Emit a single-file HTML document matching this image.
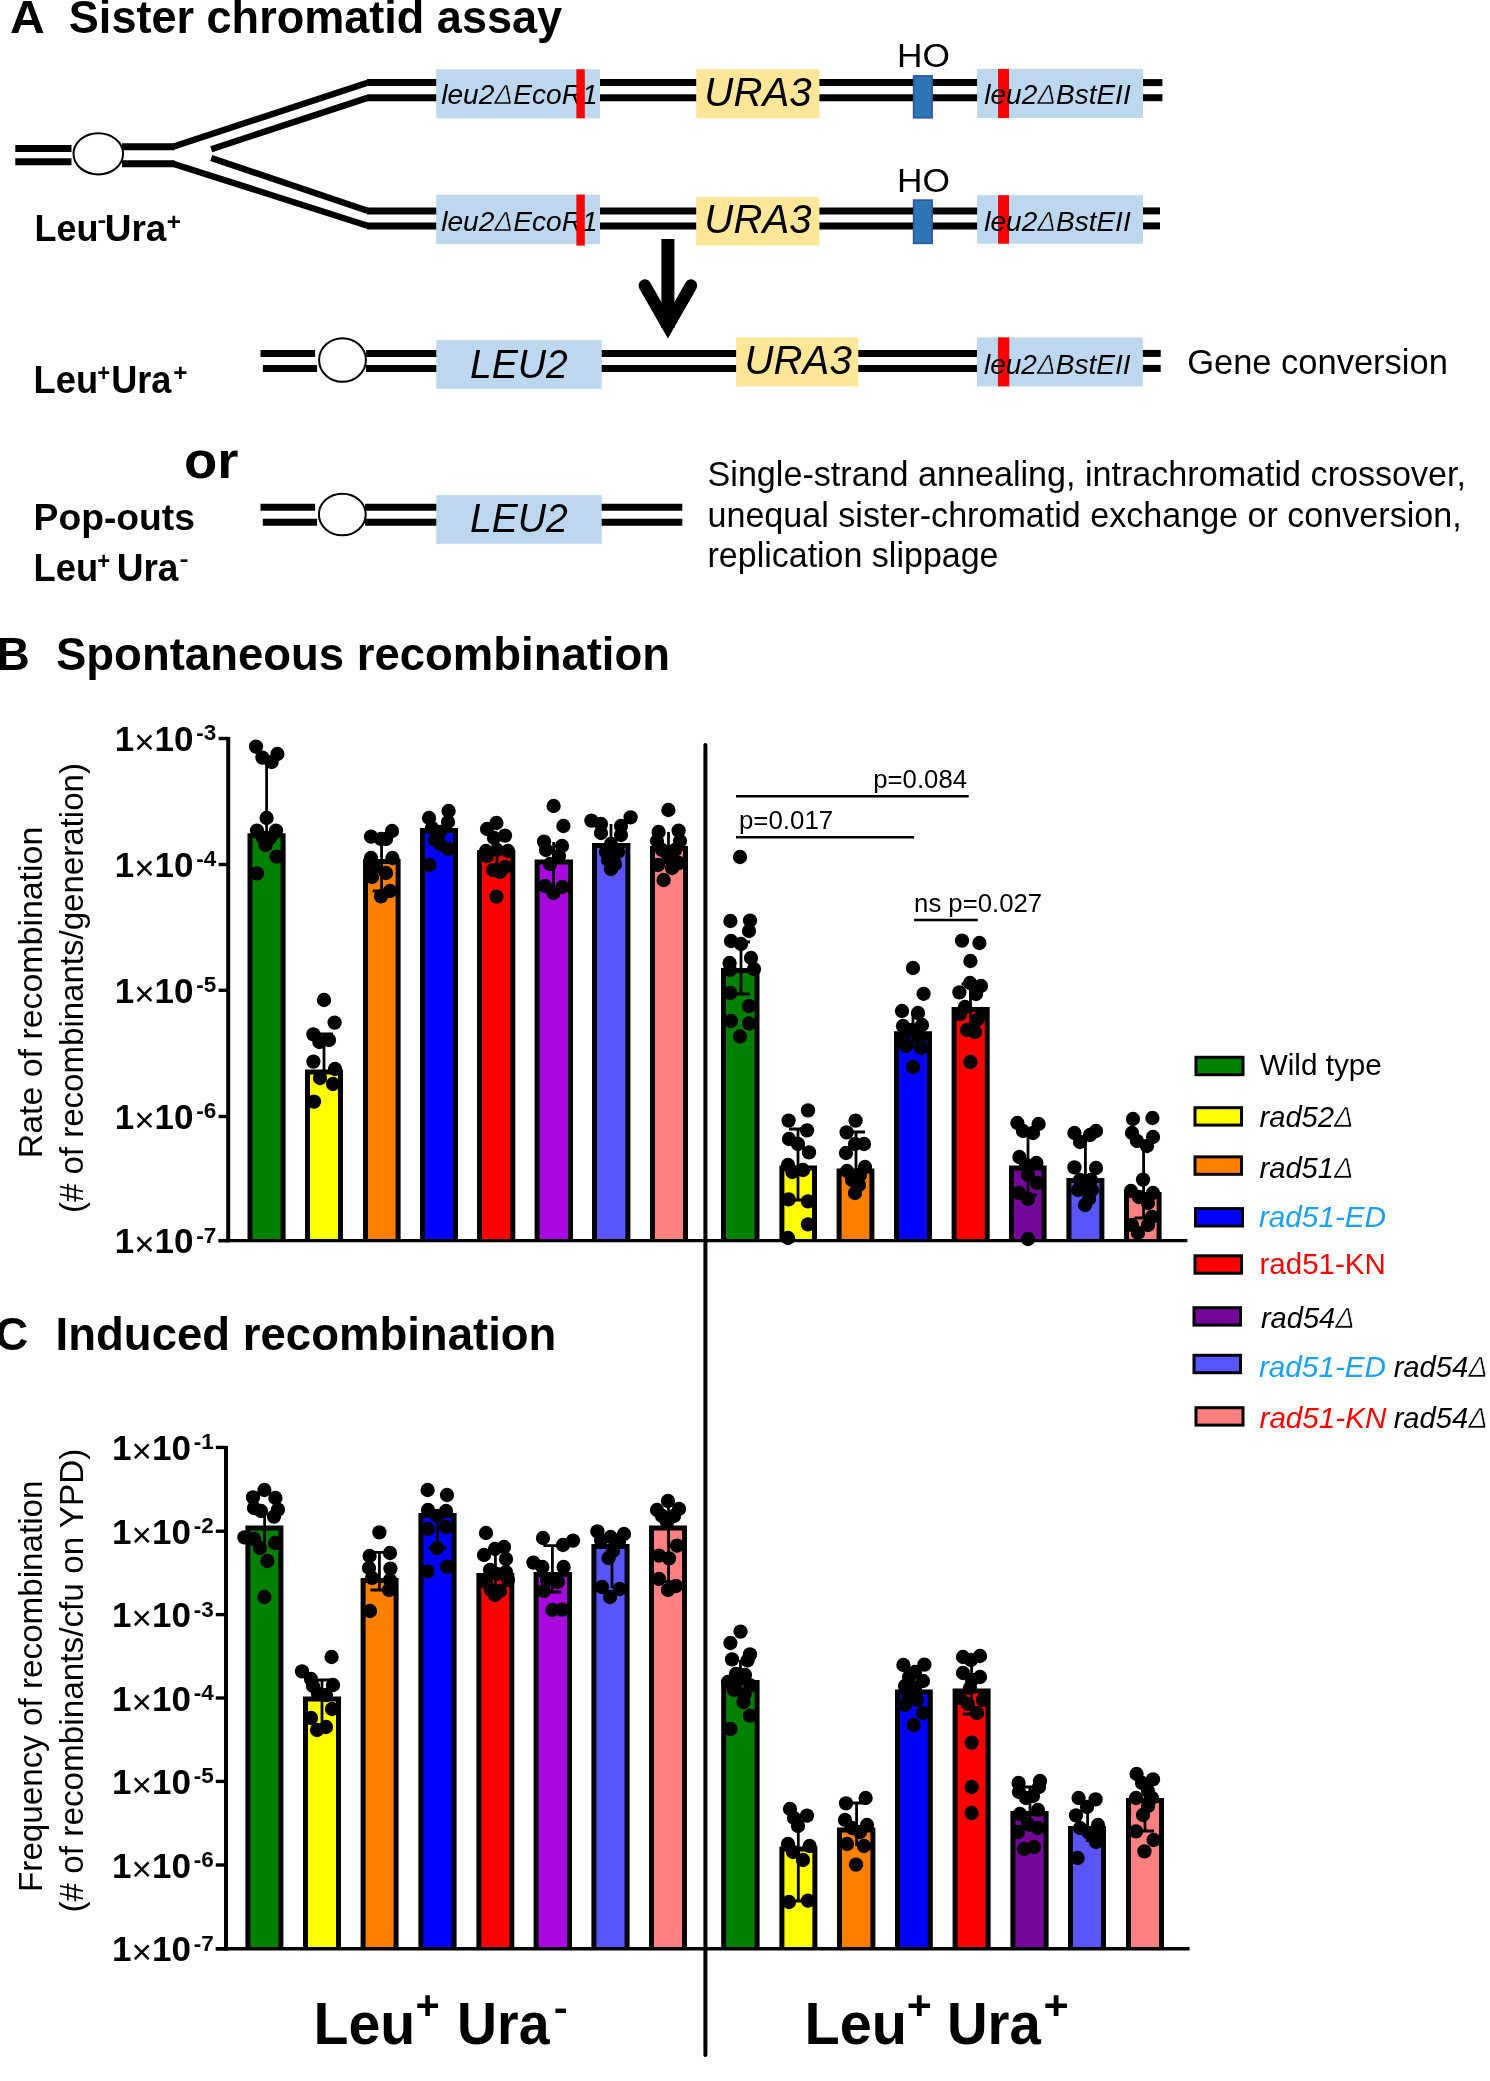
<!DOCTYPE html>
<html lang="en"><head><meta charset="utf-8"><title>Sister chromatid assay</title>
<style>
html,body{margin:0;padding:0;background:#fff}
body{width:1490px;height:2081px;overflow:hidden}
svg{display:block;will-change:transform}
svg text{font-family:"Liberation Sans",Arial,Helvetica,sans-serif}
</style></head><body>
<svg width="1490" height="2081" viewBox="0 0 1490 2081">
<rect width="1490" height="2081" fill="#fff"/>
<g id="panelA">
<text id="t1" x="9.96" y="32.5" font-size="46" font-weight="bold" textLength="34.74" lengthAdjust="spacingAndGlyphs">A</text>
<text id="t2" x="68.82" y="32.5" font-size="46" font-weight="bold" textLength="493.35" lengthAdjust="spacingAndGlyphs">Sister chromatid assay</text>
<line x1="15.3" y1="148.4" x2="71.5" y2="148.4" stroke="#000" stroke-width="7"/>
<line x1="15.3" y1="161.7" x2="71.5" y2="161.7" stroke="#000" stroke-width="7"/>
<line x1="122" y1="146.8" x2="174.5" y2="146.8" stroke="#000" stroke-width="7"/>
<line x1="122" y1="163.7" x2="174.5" y2="163.7" stroke="#000" stroke-width="7"/>
<path d="M171.5 147.3 L367.5 82.8 M211.2 149.2 L367.5 97.9 M211.2 158.0 L367.5 210.70000000000002 M171.5 163.2 L367.5 225.70000000000002" fill="none" stroke="#000" stroke-width="6.4" />
<line x1="366.9" y1="82.6" x2="1143" y2="82.6" stroke="#000" stroke-width="7"/>
<line x1="1143" y1="82.6" x2="1162.4" y2="82.6" stroke="#000" stroke-width="7"/>
<line x1="366.9" y1="97.7" x2="1143" y2="97.7" stroke="#000" stroke-width="7"/>
<line x1="1143" y1="97.7" x2="1162.4" y2="97.7" stroke="#000" stroke-width="7"/>
<line x1="366.9" y1="210.9" x2="1143" y2="210.9" stroke="#000" stroke-width="7"/>
<line x1="1143" y1="210.9" x2="1160" y2="210.9" stroke="#000" stroke-width="7"/>
<line x1="366.9" y1="225.9" x2="1143" y2="225.9" stroke="#000" stroke-width="7"/>
<line x1="1143" y1="225.9" x2="1160" y2="225.9" stroke="#000" stroke-width="7"/>
<ellipse cx="98.3" cy="153.8" rx="24.8" ry="20.6" fill="#fff" stroke="#000" stroke-width="2"/>
<rect x="436.2" y="69.3" width="163.8" height="49" fill="#BDD7EE"/>
<text id="eco103" x="441.23" y="103.8" font-size="27" font-style="italic" textLength="156.38" lengthAdjust="spacingAndGlyphs">leu2<tspan stroke="#BDD7EE" stroke-width="0.7">Δ</tspan>EcoR1</text>
<rect x="576.4" y="69.3" width="8.4" height="49" fill="#FF0000"/>
<rect x="696.2" y="69.3" width="123.2" height="49" fill="#FFE699"/>
<text id="ura105" x="704.36" y="105.5" font-size="41.4" font-style="italic" textLength="107.2" lengthAdjust="spacingAndGlyphs">URA3</text>
<text id="ho66" x="896.96" y="66.8" font-size="33" textLength="52.92" lengthAdjust="spacingAndGlyphs">HO</text>
<rect x="913.6" y="75.9" width="18.5" height="41.9" fill="#2E75B6" stroke="#2F5597" stroke-width="1.6"/>
<rect x="977.1" y="68.9" width="165.9" height="49.2" fill="#BDD7EE"/>
<rect x="998" y="68.9" width="11" height="49.2" fill="#FF0000"/>
<text id="bst103" x="984.33" y="103.8" font-size="27" font-style="italic" textLength="146.34" lengthAdjust="spacingAndGlyphs">leu2<tspan stroke="#BDD7EE" stroke-width="0.7">Δ</tspan>BstEII</text>
<rect x="436.2" y="194.6" width="163.8" height="49.4" fill="#BDD7EE"/>
<text id="eco231" x="441.23" y="231.2" font-size="27" font-style="italic" textLength="156.38" lengthAdjust="spacingAndGlyphs">leu2<tspan stroke="#BDD7EE" stroke-width="0.7">Δ</tspan>EcoR1</text>
<rect x="576.4" y="194.6" width="8.4" height="51" fill="#FF0000"/>
<rect x="696.2" y="197" width="123.2" height="48.6" fill="#FFE699"/>
<text id="ura233" x="704.36" y="233.2" font-size="41.4" font-style="italic" textLength="107.2" lengthAdjust="spacingAndGlyphs">URA3</text>
<text id="ho191" x="896.96" y="191.6" font-size="33" textLength="52.92" lengthAdjust="spacingAndGlyphs">HO</text>
<rect x="913.6" y="200.1" width="18.5" height="43.3" fill="#2E75B6" stroke="#2F5597" stroke-width="1.6"/>
<rect x="977.1" y="195.2" width="165.9" height="48.5" fill="#BDD7EE"/>
<rect x="998" y="195.2" width="11" height="48.5" fill="#FF0000"/>
<text id="bst230" x="984.33" y="230.9" font-size="27" font-style="italic" textLength="146.34" lengthAdjust="spacingAndGlyphs">leu2<tspan stroke="#BDD7EE" stroke-width="0.7">Δ</tspan>BstEII</text>
<text id="t11" x="34.47" y="241.2" font-size="36.5" font-weight="bold" textLength="64.04" lengthAdjust="spacingAndGlyphs">Leu</text>
<text id="t12" x="97.43" y="226.7" font-size="22" font-weight="bold" textLength="8.68" lengthAdjust="spacingAndGlyphs">-</text>
<text id="t13" x="104.81" y="241.2" font-size="36.5" font-weight="bold" textLength="61.64" lengthAdjust="spacingAndGlyphs">Ura</text>
<text id="t14" x="166.81" y="230" font-size="24" font-weight="bold" textLength="14.18" lengthAdjust="spacingAndGlyphs">+</text>
<path d="M667.9 239 L667.9 328" fill="none" stroke="#000" stroke-width="13" stroke-linecap="butt"/>
<path d="M644.8 285.6 L667.9 326 L691 285.6" fill="none" stroke="#000" stroke-width="12.5" stroke-linecap="round" stroke-linejoin="miter" stroke-miterlimit="10"/>
<line x1="260.5" y1="353.4" x2="315.1" y2="353.4" stroke="#000" stroke-width="7"/>
<line x1="366" y1="353.4" x2="1142.8" y2="353.4" stroke="#000" stroke-width="7"/>
<line x1="1142.8" y1="353.4" x2="1160.7" y2="353.4" stroke="#000" stroke-width="7"/>
<line x1="262.8" y1="368.4" x2="317.1" y2="368.4" stroke="#000" stroke-width="7"/>
<line x1="366" y1="368.4" x2="1142.8" y2="368.4" stroke="#000" stroke-width="7"/>
<line x1="1142.8" y1="368.4" x2="1160.7" y2="368.4" stroke="#000" stroke-width="7"/>
<ellipse cx="342.5" cy="360" rx="23.4" ry="21.8" fill="#fff" stroke="#000" stroke-width="2"/>
<rect x="436.3" y="340.1" width="165.4" height="48.7" fill="#BDD7EE"/>
<text id="t15" x="469.98" y="377.7" font-size="41" font-style="italic" textLength="97.83" lengthAdjust="spacingAndGlyphs">LEU2</text>
<rect x="736.1" y="337.4" width="122.2" height="49" fill="#FFE699"/>
<text id="t16" x="744.58" y="373.8" font-size="41.4" font-style="italic" textLength="107.2" lengthAdjust="spacingAndGlyphs">URA3</text>
<rect x="977" y="337.4" width="165.8" height="49" fill="#BDD7EE"/>
<rect x="997.9" y="337.4" width="11.4" height="49" fill="#FF0000"/>
<text id="t17" x="983.93" y="374.4" font-size="27" font-style="italic" textLength="146.56" lengthAdjust="spacingAndGlyphs">leu2<tspan stroke="#BDD7EE" stroke-width="0.7">Δ</tspan>BstEII</text>
<text id="t18" x="1187.18" y="373.6" font-size="35.2" textLength="260.67" lengthAdjust="spacingAndGlyphs">Gene conversion</text>
<text id="t19" x="33.61" y="392.8" font-size="38" font-weight="bold" textLength="64.41" lengthAdjust="spacingAndGlyphs">Leu</text>
<text id="t20" x="97.17" y="380.9" font-size="24" font-weight="bold" textLength="12.9" lengthAdjust="spacingAndGlyphs">+</text>
<text id="t21" x="111.18" y="392.8" font-size="38" font-weight="bold" textLength="60.23" lengthAdjust="spacingAndGlyphs">Ura</text>
<text id="t22" x="173.37" y="380.9" font-size="24" font-weight="bold" textLength="14.21" lengthAdjust="spacingAndGlyphs">+</text>
<text id="t23" x="184.13" y="478.2" font-size="52" font-weight="bold" textLength="54.43" lengthAdjust="spacingAndGlyphs">or</text>
<line x1="260.5" y1="507.2" x2="315.1" y2="507.2" stroke="#000" stroke-width="7"/>
<line x1="365" y1="507.2" x2="682.3" y2="507.2" stroke="#000" stroke-width="7"/>
<line x1="262.8" y1="522.3" x2="317.1" y2="522.3" stroke="#000" stroke-width="7"/>
<line x1="365" y1="522.3" x2="682.3" y2="522.3" stroke="#000" stroke-width="7"/>
<ellipse cx="342.3" cy="514.5" rx="23.4" ry="20.8" fill="#fff" stroke="#000" stroke-width="2"/>
<rect x="436.3" y="495.2" width="165.4" height="48.6" fill="#BDD7EE"/>
<text id="t24" x="469.98" y="532" font-size="41" font-style="italic" textLength="97.83" lengthAdjust="spacingAndGlyphs">LEU2</text>
<text id="t25" x="33.57" y="530.1" font-size="37.5" font-weight="bold" textLength="161.44" lengthAdjust="spacingAndGlyphs">Pop-outs</text>
<text id="t26" x="33.61" y="580.8" font-size="38" font-weight="bold" textLength="64.41" lengthAdjust="spacingAndGlyphs">Leu</text>
<text id="t27" x="97.17" y="569" font-size="24" font-weight="bold" textLength="12.9" lengthAdjust="spacingAndGlyphs">+</text>
<text id="t28" x="116.71" y="580.8" font-size="38" font-weight="bold" textLength="61.74" lengthAdjust="spacingAndGlyphs">Ura</text>
<text id="t29" x="179.42" y="566.3" font-size="22" font-weight="bold" textLength="8.98" lengthAdjust="spacingAndGlyphs">-</text>
<text id="t30" x="707.56" y="486.3" font-size="35.2" textLength="758.49" lengthAdjust="spacingAndGlyphs">Single-strand annealing, intrachromatid crossover,</text>
<text id="t31" x="707.49" y="526.6" font-size="35.2" textLength="754.18" lengthAdjust="spacingAndGlyphs">unequal sister-chromatid exchange or conversion,</text>
<text id="t32" x="707.5" y="567.3" font-size="35.2" textLength="291" lengthAdjust="spacingAndGlyphs">replication slippage</text>
</g>
<g id="chartB">
<text id="t33" x="-3.5" y="669.6" font-size="46" font-weight="bold">B</text>
<text id="t34" x="56.01" y="669.6" font-size="46" font-weight="bold" textLength="614.06" lengthAdjust="spacingAndGlyphs">Spontaneous recombination</text>
<rect x="250" y="835.7" width="33.1" height="404.9" fill="#008000"/>
<path d="M250 1240.6 V835.7 H283.1 V1240.6" fill="none" stroke="#000" stroke-width="5" stroke-linejoin="miter"/>
<rect x="307.5" y="1072.1" width="33" height="168.5" fill="#FFFF00"/>
<path d="M307.5 1240.6 V1072.1 H340.5 V1240.6" fill="none" stroke="#000" stroke-width="5" stroke-linejoin="miter"/>
<rect x="365.5" y="861.5" width="32.6" height="379.1" fill="#FF8000"/>
<path d="M365.5 1240.6 V861.5 H398.1 V1240.6" fill="none" stroke="#000" stroke-width="5" stroke-linejoin="miter"/>
<rect x="422.5" y="830.5" width="33" height="410.1" fill="#0000FF"/>
<path d="M422.5 1240.6 V830.5 H455.5 V1240.6" fill="none" stroke="#000" stroke-width="5" stroke-linejoin="miter"/>
<rect x="479.5" y="852.5" width="33.3" height="388.1" fill="#FF0000"/>
<path d="M479.5 1240.6 V852.5 H512.8 V1240.6" fill="none" stroke="#000" stroke-width="5" stroke-linejoin="miter"/>
<rect x="537.1" y="862.1" width="33.4" height="378.5" fill="#AA08E0"/>
<path d="M537.1 1240.6 V862.1 H570.5 V1240.6" fill="none" stroke="#000" stroke-width="5" stroke-linejoin="miter"/>
<rect x="594.5" y="845.5" width="33.4" height="395.1" fill="#5A55FA"/>
<path d="M594.5 1240.6 V845.5 H627.9 V1240.6" fill="none" stroke="#000" stroke-width="5" stroke-linejoin="miter"/>
<rect x="652.5" y="848.5" width="33" height="392.1" fill="#FF8080"/>
<path d="M652.5 1240.6 V848.5 H685.5 V1240.6" fill="none" stroke="#000" stroke-width="5" stroke-linejoin="miter"/>
<rect x="723.5" y="970.5" width="33.5" height="270.1" fill="#008000"/>
<path d="M723.5 1240.6 V970.5 H757 V1240.6" fill="none" stroke="#000" stroke-width="5" stroke-linejoin="miter"/>
<rect x="781.9" y="1168.1" width="32.6" height="72.5" fill="#FFFF00"/>
<path d="M781.9 1240.6 V1168.1 H814.5 V1240.6" fill="none" stroke="#000" stroke-width="5" stroke-linejoin="miter"/>
<rect x="839.1" y="1170.9" width="32.8" height="69.7" fill="#FF8000"/>
<path d="M839.1 1240.6 V1170.9 H871.9 V1240.6" fill="none" stroke="#000" stroke-width="5" stroke-linejoin="miter"/>
<rect x="896.5" y="1033.8" width="33" height="206.8" fill="#0000FF"/>
<path d="M896.5 1240.6 V1033.8 H929.5 V1240.6" fill="none" stroke="#000" stroke-width="5" stroke-linejoin="miter"/>
<rect x="954.1" y="1009.5" width="33.1" height="231.1" fill="#FF0000"/>
<path d="M954.1 1240.6 V1009.5 H987.2 V1240.6" fill="none" stroke="#000" stroke-width="5" stroke-linejoin="miter"/>
<rect x="1011.5" y="1168.1" width="32.6" height="72.5" fill="#75079A"/>
<path d="M1011.5 1240.6 V1168.1 H1044.1 V1240.6" fill="none" stroke="#000" stroke-width="5" stroke-linejoin="miter"/>
<rect x="1068.9" y="1180.5" width="33" height="60.1" fill="#5A55FA"/>
<path d="M1068.9 1240.6 V1180.5 H1101.9 V1240.6" fill="none" stroke="#000" stroke-width="5" stroke-linejoin="miter"/>
<rect x="1126.5" y="1194.5" width="32.6" height="46.1" fill="#FF8080"/>
<path d="M1126.5 1240.6 V1194.5 H1159.1 V1240.6" fill="none" stroke="#000" stroke-width="5" stroke-linejoin="miter"/>
<path d="M266.6 760 V833" fill="none" stroke="#000" stroke-width="2.8" />
<path d="M324 1034 V1070 M315 1034 H333" fill="none" stroke="#000" stroke-width="2.8" />
<path d="M381.6 839 V891 M372.6 891 H390.6" fill="none" stroke="#000" stroke-width="2.8" />
<path d="M439 826 V845" fill="none" stroke="#000" stroke-width="2.8" />
<path d="M497 835 V866" fill="none" stroke="#000" stroke-width="2.8" />
<path d="M553.6 842 V886" fill="none" stroke="#000" stroke-width="2.8" />
<path d="M611 824 V862" fill="none" stroke="#000" stroke-width="2.8" />
<path d="M668.5 832 V866" fill="none" stroke="#000" stroke-width="2.8" />
<path d="M741 942 V994 M732 942 H750 M732 994 H750" fill="none" stroke="#000" stroke-width="2.8" />
<path d="M798 1129 V1200 M789 1129 H807 M789 1200 H807" fill="none" stroke="#000" stroke-width="2.8" />
<path d="M856 1132 V1190 M847 1132 H865" fill="none" stroke="#000" stroke-width="2.8" />
<path d="M913 1012 V1048" fill="none" stroke="#000" stroke-width="2.8" />
<path d="M970.5 984 V1030 M961.5 984 H979.5" fill="none" stroke="#000" stroke-width="2.8" />
<path d="M1028 1134 V1195 M1019 1195 H1037" fill="none" stroke="#000" stroke-width="2.8" />
<path d="M1085.4 1140 V1200" fill="none" stroke="#000" stroke-width="2.8" />
<path d="M1143.6 1147 V1218 M1134.6 1218 H1152.6" fill="none" stroke="#000" stroke-width="2.8" />
<g fill="#000"><circle cx="256" cy="746.6" r="7.15"/><circle cx="262.4" cy="757.6" r="7.15"/><circle cx="277.4" cy="754" r="7.15"/><circle cx="271.6" cy="762" r="7.15"/><circle cx="266.6" cy="818" r="7.15"/><circle cx="257" cy="830.6" r="7.15"/><circle cx="276" cy="830.6" r="7.15"/><circle cx="263" cy="838" r="7.15"/><circle cx="270" cy="838" r="7.15"/><circle cx="265.6" cy="845" r="7.15"/><circle cx="276.6" cy="856.6" r="7.15"/><circle cx="257" cy="873.4" r="7.15"/><circle cx="324" cy="1000" r="7.15"/><circle cx="334.6" cy="1022.6" r="7.15"/><circle cx="313.4" cy="1034.4" r="7.15"/><circle cx="319.4" cy="1042" r="7.15"/><circle cx="329" cy="1040" r="7.15"/><circle cx="313.4" cy="1061.6" r="7.15"/><circle cx="335" cy="1069" r="7.15"/><circle cx="320" cy="1078" r="7.15"/><circle cx="333" cy="1084" r="7.15"/><circle cx="314" cy="1101.6" r="7.15"/><circle cx="371" cy="836.6" r="7.15"/><circle cx="392" cy="831" r="7.15"/><circle cx="381" cy="839" r="7.15"/><circle cx="386" cy="839" r="7.15"/><circle cx="371" cy="858" r="7.15"/><circle cx="392.4" cy="858" r="7.15"/><circle cx="374" cy="868" r="7.15"/><circle cx="386" cy="873" r="7.15"/><circle cx="372" cy="877" r="7.15"/><circle cx="390" cy="891" r="7.15"/><circle cx="381" cy="896.4" r="7.15"/><circle cx="429" cy="818" r="7.15"/><circle cx="448.6" cy="811" r="7.15"/><circle cx="448" cy="822" r="7.15"/><circle cx="432" cy="828" r="7.15"/><circle cx="440" cy="832" r="7.15"/><circle cx="435" cy="840" r="7.15"/><circle cx="440" cy="844" r="7.15"/><circle cx="448" cy="849" r="7.15"/><circle cx="429.4" cy="865" r="7.15"/><circle cx="496.4" cy="823" r="7.15"/><circle cx="487" cy="829" r="7.15"/><circle cx="505" cy="835.6" r="7.15"/><circle cx="494" cy="838" r="7.15"/><circle cx="486" cy="851" r="7.15"/><circle cx="508" cy="851" r="7.15"/><circle cx="497" cy="850" r="7.15"/><circle cx="487" cy="856" r="7.15"/><circle cx="505" cy="867" r="7.15"/><circle cx="493" cy="870" r="7.15"/><circle cx="500" cy="872" r="7.15"/><circle cx="496.4" cy="896.6" r="7.15"/><circle cx="553.6" cy="806" r="7.15"/><circle cx="563.4" cy="826" r="7.15"/><circle cx="544" cy="841.6" r="7.15"/><circle cx="562" cy="846" r="7.15"/><circle cx="546" cy="850" r="7.15"/><circle cx="559" cy="856" r="7.15"/><circle cx="550" cy="864" r="7.15"/><circle cx="545" cy="886" r="7.15"/><circle cx="562.4" cy="887" r="7.15"/><circle cx="553.4" cy="893" r="7.15"/><circle cx="591.4" cy="820.6" r="7.15"/><circle cx="601" cy="824" r="7.15"/><circle cx="630.6" cy="817.4" r="7.15"/><circle cx="621" cy="826" r="7.15"/><circle cx="601" cy="833" r="7.15"/><circle cx="621" cy="835" r="7.15"/><circle cx="611" cy="844" r="7.15"/><circle cx="606" cy="852" r="7.15"/><circle cx="618" cy="852" r="7.15"/><circle cx="608" cy="860" r="7.15"/><circle cx="615" cy="864" r="7.15"/><circle cx="611" cy="869" r="7.15"/><circle cx="668.4" cy="810" r="7.15"/><circle cx="658.6" cy="832" r="7.15"/><circle cx="678.6" cy="830.6" r="7.15"/><circle cx="657" cy="841" r="7.15"/><circle cx="680" cy="841" r="7.15"/><circle cx="662" cy="850" r="7.15"/><circle cx="675" cy="850" r="7.15"/><circle cx="668.4" cy="858" r="7.15"/><circle cx="658" cy="865" r="7.15"/><circle cx="679" cy="863" r="7.15"/><circle cx="672" cy="868" r="7.15"/><circle cx="663.6" cy="880" r="7.15"/><circle cx="740" cy="857" r="7.15"/><circle cx="730.4" cy="921" r="7.15"/><circle cx="750" cy="920.6" r="7.15"/><circle cx="749" cy="931" r="7.15"/><circle cx="731" cy="941" r="7.15"/><circle cx="741" cy="944" r="7.15"/><circle cx="729.6" cy="963" r="7.15"/><circle cx="751" cy="958" r="7.15"/><circle cx="730" cy="970" r="7.15"/><circle cx="754" cy="969" r="7.15"/><circle cx="730.4" cy="993" r="7.15"/><circle cx="749" cy="1006" r="7.15"/><circle cx="731" cy="1021" r="7.15"/><circle cx="749" cy="1023.5" r="7.15"/><circle cx="740" cy="1036.5" r="7.15"/><circle cx="808" cy="1110.4" r="7.15"/><circle cx="788.6" cy="1120.6" r="7.15"/><circle cx="807" cy="1130.4" r="7.15"/><circle cx="789" cy="1139" r="7.15"/><circle cx="798" cy="1144" r="7.15"/><circle cx="809" cy="1152.4" r="7.15"/><circle cx="788" cy="1165" r="7.15"/><circle cx="792.4" cy="1172" r="7.15"/><circle cx="803" cy="1170" r="7.15"/><circle cx="788.6" cy="1199.4" r="7.15"/><circle cx="808" cy="1201.4" r="7.15"/><circle cx="808" cy="1224.4" r="7.15"/><circle cx="788" cy="1238" r="7.15"/><circle cx="855.6" cy="1120.6" r="7.15"/><circle cx="846.6" cy="1132.4" r="7.15"/><circle cx="864" cy="1144" r="7.15"/><circle cx="855" cy="1144" r="7.15"/><circle cx="846" cy="1153" r="7.15"/><circle cx="865" cy="1167" r="7.15"/><circle cx="847" cy="1171" r="7.15"/><circle cx="860" cy="1175" r="7.15"/><circle cx="852" cy="1180" r="7.15"/><circle cx="859" cy="1185" r="7.15"/><circle cx="855" cy="1193" r="7.15"/><circle cx="913" cy="968" r="7.15"/><circle cx="923.6" cy="993.8" r="7.15"/><circle cx="902" cy="1011" r="7.15"/><circle cx="918" cy="1013" r="7.15"/><circle cx="903" cy="1026" r="7.15"/><circle cx="922" cy="1025" r="7.15"/><circle cx="912" cy="1030" r="7.15"/><circle cx="904" cy="1038" r="7.15"/><circle cx="920" cy="1038" r="7.15"/><circle cx="906" cy="1046" r="7.15"/><circle cx="921" cy="1048" r="7.15"/><circle cx="913" cy="1067" r="7.15"/><circle cx="962" cy="940.6" r="7.15"/><circle cx="979.4" cy="943" r="7.15"/><circle cx="970.4" cy="961" r="7.15"/><circle cx="970" cy="983" r="7.15"/><circle cx="981" cy="986" r="7.15"/><circle cx="959.4" cy="992.4" r="7.15"/><circle cx="976" cy="994" r="7.15"/><circle cx="965" cy="1007" r="7.15"/><circle cx="960" cy="1014" r="7.15"/><circle cx="982" cy="1014" r="7.15"/><circle cx="977" cy="1020" r="7.15"/><circle cx="967" cy="1030" r="7.15"/><circle cx="975" cy="1032" r="7.15"/><circle cx="970.4" cy="1062" r="7.15"/><circle cx="1017.4" cy="1123" r="7.15"/><circle cx="1038.6" cy="1124" r="7.15"/><circle cx="1023" cy="1131" r="7.15"/><circle cx="1033" cy="1133" r="7.15"/><circle cx="1019.4" cy="1157" r="7.15"/><circle cx="1036.4" cy="1163" r="7.15"/><circle cx="1026" cy="1165" r="7.15"/><circle cx="1028" cy="1175" r="7.15"/><circle cx="1037" cy="1183" r="7.15"/><circle cx="1019" cy="1193" r="7.15"/><circle cx="1028" cy="1199" r="7.15"/><circle cx="1028" cy="1239" r="7.15"/><circle cx="1074.4" cy="1133" r="7.15"/><circle cx="1096" cy="1131" r="7.15"/><circle cx="1090" cy="1135" r="7.15"/><circle cx="1080" cy="1142" r="7.15"/><circle cx="1074.4" cy="1167.4" r="7.15"/><circle cx="1096" cy="1168" r="7.15"/><circle cx="1080" cy="1180" r="7.15"/><circle cx="1091" cy="1180" r="7.15"/><circle cx="1078" cy="1190" r="7.15"/><circle cx="1092" cy="1190" r="7.15"/><circle cx="1089" cy="1199" r="7.15"/><circle cx="1085" cy="1205" r="7.15"/><circle cx="1133" cy="1119" r="7.15"/><circle cx="1152.4" cy="1118" r="7.15"/><circle cx="1132" cy="1133" r="7.15"/><circle cx="1153" cy="1137" r="7.15"/><circle cx="1137" cy="1141" r="7.15"/><circle cx="1147" cy="1146" r="7.15"/><circle cx="1143" cy="1179.6" r="7.15"/><circle cx="1131" cy="1191" r="7.15"/><circle cx="1153" cy="1193" r="7.15"/><circle cx="1139" cy="1197" r="7.15"/><circle cx="1148" cy="1203" r="7.15"/><circle cx="1152" cy="1217" r="7.15"/><circle cx="1132" cy="1225" r="7.15"/><circle cx="1148" cy="1225" r="7.15"/><circle cx="1138" cy="1233" r="7.15"/></g>
<line x1="228.2" y1="737" x2="228.2" y2="1242.3" stroke="#000" stroke-width="4"/>
<line x1="218.6" y1="738.5" x2="228.2" y2="738.5" stroke="#000" stroke-width="3.4"/>
<line x1="218.6" y1="864.5" x2="228.2" y2="864.5" stroke="#000" stroke-width="3.4"/>
<line x1="218.6" y1="990.3" x2="228.2" y2="990.3" stroke="#000" stroke-width="3.4"/>
<line x1="218.6" y1="1116.5" x2="228.2" y2="1116.5" stroke="#000" stroke-width="3.4"/>
<line x1="218.6" y1="1240.6" x2="228.2" y2="1240.6" stroke="#000" stroke-width="3.4"/>
<line x1="218.6" y1="1240.6" x2="1187.4" y2="1240.6" stroke="#000" stroke-width="3.4"/>
<text x="114.7" y="751" font-size="35" font-weight="bold">1<tspan font-weight="normal" dy="3">×</tspan><tspan dy="-3">10</tspan></text>
<text id="t35" x="196.3" y="740.4" font-size="22.5" font-weight="bold">-3</text>
<text x="114.7" y="877" font-size="35" font-weight="bold">1<tspan font-weight="normal" dy="3">×</tspan><tspan dy="-3">10</tspan></text>
<text id="t36" x="196.3" y="866.4" font-size="22.5" font-weight="bold">-4</text>
<text x="114.7" y="1002.8" font-size="35" font-weight="bold">1<tspan font-weight="normal" dy="3">×</tspan><tspan dy="-3">10</tspan></text>
<text id="t37" x="196.3" y="992.2" font-size="22.5" font-weight="bold">-5</text>
<text x="114.7" y="1129" font-size="35" font-weight="bold">1<tspan font-weight="normal" dy="3">×</tspan><tspan dy="-3">10</tspan></text>
<text id="t38" x="196.3" y="1118.4" font-size="22.5" font-weight="bold">-6</text>
<text x="114.7" y="1253.1" font-size="35" font-weight="bold">1<tspan font-weight="normal" dy="3">×</tspan><tspan dy="-3">10</tspan></text>
<text id="t39" x="196.3" y="1242.5" font-size="22.5" font-weight="bold">-7</text>
<text transform="translate(41.8 992.5) rotate(-90)" font-size="33.5" text-anchor="middle" textLength="331.5" lengthAdjust="spacingAndGlyphs">Rate of recombination</text>
<text transform="translate(82.7 988.1) rotate(-90)" font-size="33.5" text-anchor="middle" textLength="450" lengthAdjust="spacingAndGlyphs">(# of recombinants/generation)</text>
<line x1="736" y1="796.2" x2="968.7" y2="796.2" stroke="#000" stroke-width="2.6"/>
<line x1="736" y1="837.2" x2="914.1" y2="837.2" stroke="#000" stroke-width="2.6"/>
<line x1="914.1" y1="919.9" x2="977.9" y2="919.9" stroke="#000" stroke-width="2.5"/>
<text id="p1" x="873.28" y="787.8" font-size="25.5" textLength="93.75" lengthAdjust="spacingAndGlyphs">p=0.084</text>
<text id="p2" x="738.99" y="828.8" font-size="25.5" textLength="94.15" lengthAdjust="spacingAndGlyphs">p=0.017</text>
<text id="p3" x="914.09" y="912.3" font-size="25.5" textLength="127.95" lengthAdjust="spacingAndGlyphs">ns p=0.027</text>
</g>
<g id="chartC">
<text id="t43" x="-5" y="1350.4" font-size="46" font-weight="bold">C</text>
<text id="t44" x="55.61" y="1350.4" font-size="46" font-weight="bold" textLength="500.81" lengthAdjust="spacingAndGlyphs">Induced recombination</text>
<rect x="247.9" y="1528.1" width="33" height="420.7" fill="#008000"/>
<path d="M247.9 1948.8 V1528.1 H280.9 V1948.8" fill="none" stroke="#000" stroke-width="5" stroke-linejoin="miter"/>
<rect x="305.5" y="1699.1" width="33" height="249.7" fill="#FFFF00"/>
<path d="M305.5 1948.8 V1699.1 H338.5 V1948.8" fill="none" stroke="#000" stroke-width="5" stroke-linejoin="miter"/>
<rect x="363.1" y="1580.5" width="33" height="368.3" fill="#FF8000"/>
<path d="M363.1 1948.8 V1580.5 H396.1 V1948.8" fill="none" stroke="#000" stroke-width="5" stroke-linejoin="miter"/>
<rect x="420.9" y="1515.5" width="33.2" height="433.3" fill="#0000FF"/>
<path d="M420.9 1948.8 V1515.5 H454.1 V1948.8" fill="none" stroke="#000" stroke-width="5" stroke-linejoin="miter"/>
<rect x="478.9" y="1575.5" width="32.9" height="373.3" fill="#FF0000"/>
<path d="M478.9 1948.8 V1575.5 H511.8 V1948.8" fill="none" stroke="#000" stroke-width="5" stroke-linejoin="miter"/>
<rect x="536.1" y="1574.5" width="33.4" height="374.3" fill="#AA08E0"/>
<path d="M536.1 1948.8 V1574.5 H569.5 V1948.8" fill="none" stroke="#000" stroke-width="5" stroke-linejoin="miter"/>
<rect x="593.9" y="1546.5" width="33.2" height="402.3" fill="#5A55FA"/>
<path d="M593.9 1948.8 V1546.5 H627.1 V1948.8" fill="none" stroke="#000" stroke-width="5" stroke-linejoin="miter"/>
<rect x="651.5" y="1528.1" width="33" height="420.7" fill="#FF8080"/>
<path d="M651.5 1948.8 V1528.1 H684.5 V1948.8" fill="none" stroke="#000" stroke-width="5" stroke-linejoin="miter"/>
<rect x="723.7" y="1682.5" width="33.4" height="266.3" fill="#008000"/>
<path d="M723.7 1948.8 V1682.5 H757.1 V1948.8" fill="none" stroke="#000" stroke-width="5" stroke-linejoin="miter"/>
<rect x="781.9" y="1848.9" width="33" height="99.9" fill="#FFFF00"/>
<path d="M781.9 1948.8 V1848.9 H814.9 V1948.8" fill="none" stroke="#000" stroke-width="5" stroke-linejoin="miter"/>
<rect x="839.5" y="1829.9" width="33.4" height="118.9" fill="#FF8000"/>
<path d="M839.5 1948.8 V1829.9 H872.9 V1948.8" fill="none" stroke="#000" stroke-width="5" stroke-linejoin="miter"/>
<rect x="897.5" y="1691.9" width="32.8" height="256.9" fill="#0000FF"/>
<path d="M897.5 1948.8 V1691.9 H930.3 V1948.8" fill="none" stroke="#000" stroke-width="5" stroke-linejoin="miter"/>
<rect x="955.1" y="1691.1" width="33" height="257.7" fill="#FF0000"/>
<path d="M955.1 1948.8 V1691.1 H988.1 V1948.8" fill="none" stroke="#000" stroke-width="5" stroke-linejoin="miter"/>
<rect x="1012.9" y="1813.5" width="33.2" height="135.3" fill="#75079A"/>
<path d="M1012.9 1948.8 V1813.5 H1046.1 V1948.8" fill="none" stroke="#000" stroke-width="5" stroke-linejoin="miter"/>
<rect x="1070.5" y="1828.5" width="33" height="120.3" fill="#5A55FA"/>
<path d="M1070.5 1948.8 V1828.5 H1103.5 V1948.8" fill="none" stroke="#000" stroke-width="5" stroke-linejoin="miter"/>
<rect x="1128.5" y="1800.5" width="33" height="148.3" fill="#FF8080"/>
<path d="M1128.5 1948.8 V1800.5 H1161.5 V1948.8" fill="none" stroke="#000" stroke-width="5" stroke-linejoin="miter"/>
<path d="M264.6 1516 V1548" fill="none" stroke="#000" stroke-width="2.8" />
<path d="M322 1680 V1722 M313 1680 H331" fill="none" stroke="#000" stroke-width="2.8" />
<path d="M379.4 1552.4 V1590 M370.4 1552.4 H388.4 M370.4 1590 H388.4" fill="none" stroke="#000" stroke-width="2.8" />
<path d="M437.4 1512 V1548 M428.4 1548 H446.4" fill="none" stroke="#000" stroke-width="2.8" />
<path d="M495.4 1550 V1592" fill="none" stroke="#000" stroke-width="2.8" />
<path d="M552.4 1545.6 V1592 M543.4 1545.6 H561.4 M543.4 1592 H561.4" fill="none" stroke="#000" stroke-width="2.8" />
<path d="M612 1537 V1588" fill="none" stroke="#000" stroke-width="2.8" />
<path d="M668.6 1508 V1581.6 M659.6 1581.6 H677.6" fill="none" stroke="#000" stroke-width="2.8" />
<path d="M740.4 1660 V1702" fill="none" stroke="#000" stroke-width="2.8" />
<path d="M798.3 1826 V1901 M789.3 1901 H807.3" fill="none" stroke="#000" stroke-width="2.8" />
<path d="M856.6 1803 V1846 M847.6 1803 H865.6" fill="none" stroke="#000" stroke-width="2.8" />
<path d="M914 1672 V1706" fill="none" stroke="#000" stroke-width="2.8" />
<path d="M971.6 1660 V1714 M962.6 1714 H980.6" fill="none" stroke="#000" stroke-width="2.8" />
<path d="M1030 1787 V1832 M1021 1787 H1039" fill="none" stroke="#000" stroke-width="2.8" />
<path d="M1087.6 1808 V1842" fill="none" stroke="#000" stroke-width="2.8" />
<path d="M1145 1783 V1831 M1136 1831 H1154" fill="none" stroke="#000" stroke-width="2.8" />
<g fill="#000"><circle cx="264.4" cy="1490" r="7.15"/><circle cx="253" cy="1497.4" r="7.15"/><circle cx="275.4" cy="1498" r="7.15"/><circle cx="254" cy="1508" r="7.15"/><circle cx="278" cy="1509.6" r="7.15"/><circle cx="261" cy="1511" r="7.15"/><circle cx="274" cy="1516.6" r="7.15"/><circle cx="244.4" cy="1537.4" r="7.15"/><circle cx="254" cy="1539" r="7.15"/><circle cx="275" cy="1543" r="7.15"/><circle cx="260" cy="1548" r="7.15"/><circle cx="267.4" cy="1561" r="7.15"/><circle cx="264.4" cy="1597" r="7.15"/><circle cx="331.6" cy="1657" r="7.15"/><circle cx="302" cy="1671.4" r="7.15"/><circle cx="311" cy="1679" r="7.15"/><circle cx="313" cy="1686" r="7.15"/><circle cx="333" cy="1685" r="7.15"/><circle cx="318" cy="1694" r="7.15"/><circle cx="326" cy="1695" r="7.15"/><circle cx="332" cy="1709" r="7.15"/><circle cx="311" cy="1718" r="7.15"/><circle cx="326" cy="1727" r="7.15"/><circle cx="317" cy="1730" r="7.15"/><circle cx="379.4" cy="1532.4" r="7.15"/><circle cx="390" cy="1553" r="7.15"/><circle cx="369.6" cy="1556" r="7.15"/><circle cx="369" cy="1568" r="7.15"/><circle cx="390.4" cy="1568.6" r="7.15"/><circle cx="372" cy="1578" r="7.15"/><circle cx="390" cy="1580" r="7.15"/><circle cx="389" cy="1590" r="7.15"/><circle cx="370" cy="1611" r="7.15"/><circle cx="427.6" cy="1490" r="7.15"/><circle cx="447" cy="1495" r="7.15"/><circle cx="428" cy="1510" r="7.15"/><circle cx="446" cy="1511" r="7.15"/><circle cx="437" cy="1516" r="7.15"/><circle cx="428" cy="1529" r="7.15"/><circle cx="446" cy="1527" r="7.15"/><circle cx="437" cy="1548" r="7.15"/><circle cx="427.6" cy="1571.4" r="7.15"/><circle cx="447" cy="1566.6" r="7.15"/><circle cx="486" cy="1533" r="7.15"/><circle cx="504" cy="1547" r="7.15"/><circle cx="495" cy="1549" r="7.15"/><circle cx="484" cy="1555" r="7.15"/><circle cx="506" cy="1559" r="7.15"/><circle cx="490" cy="1570" r="7.15"/><circle cx="506" cy="1572" r="7.15"/><circle cx="497" cy="1574" r="7.15"/><circle cx="486" cy="1582" r="7.15"/><circle cx="508" cy="1580" r="7.15"/><circle cx="491" cy="1590" r="7.15"/><circle cx="500" cy="1591" r="7.15"/><circle cx="495" cy="1595" r="7.15"/><circle cx="543" cy="1538" r="7.15"/><circle cx="573" cy="1540.6" r="7.15"/><circle cx="563" cy="1545" r="7.15"/><circle cx="533.4" cy="1562.6" r="7.15"/><circle cx="542.4" cy="1567" r="7.15"/><circle cx="563.6" cy="1567" r="7.15"/><circle cx="547" cy="1580" r="7.15"/><circle cx="558" cy="1582" r="7.15"/><circle cx="544" cy="1591" r="7.15"/><circle cx="552.4" cy="1610" r="7.15"/><circle cx="562" cy="1609.6" r="7.15"/><circle cx="597.4" cy="1531.4" r="7.15"/><circle cx="624" cy="1534" r="7.15"/><circle cx="610.6" cy="1537" r="7.15"/><circle cx="601" cy="1540" r="7.15"/><circle cx="619" cy="1542" r="7.15"/><circle cx="613" cy="1551" r="7.15"/><circle cx="608.6" cy="1558" r="7.15"/><circle cx="602" cy="1587" r="7.15"/><circle cx="619.6" cy="1589" r="7.15"/><circle cx="610" cy="1597" r="7.15"/><circle cx="668" cy="1501" r="7.15"/><circle cx="657" cy="1510" r="7.15"/><circle cx="679" cy="1509" r="7.15"/><circle cx="662" cy="1516" r="7.15"/><circle cx="674" cy="1516" r="7.15"/><circle cx="667" cy="1522" r="7.15"/><circle cx="677" cy="1545.6" r="7.15"/><circle cx="659" cy="1555.6" r="7.15"/><circle cx="669" cy="1558.4" r="7.15"/><circle cx="659" cy="1579" r="7.15"/><circle cx="676" cy="1586" r="7.15"/><circle cx="668" cy="1590" r="7.15"/><circle cx="740.5" cy="1631.6" r="7.15"/><circle cx="730.4" cy="1643" r="7.15"/><circle cx="750" cy="1654.4" r="7.15"/><circle cx="732" cy="1659.4" r="7.15"/><circle cx="747.5" cy="1660.5" r="7.15"/><circle cx="736" cy="1674" r="7.15"/><circle cx="745" cy="1675" r="7.15"/><circle cx="728" cy="1682" r="7.15"/><circle cx="750.5" cy="1685.5" r="7.15"/><circle cx="734" cy="1690" r="7.15"/><circle cx="744.5" cy="1694.5" r="7.15"/><circle cx="743.5" cy="1702" r="7.15"/><circle cx="750" cy="1715.6" r="7.15"/><circle cx="730.5" cy="1729" r="7.15"/><circle cx="790" cy="1809" r="7.15"/><circle cx="807" cy="1815.6" r="7.15"/><circle cx="794" cy="1818" r="7.15"/><circle cx="798" cy="1826" r="7.15"/><circle cx="788" cy="1844" r="7.15"/><circle cx="809.6" cy="1846" r="7.15"/><circle cx="793" cy="1852" r="7.15"/><circle cx="803" cy="1860" r="7.15"/><circle cx="789" cy="1902" r="7.15"/><circle cx="808" cy="1900.6" r="7.15"/><circle cx="865.6" cy="1798" r="7.15"/><circle cx="846" cy="1803.4" r="7.15"/><circle cx="845" cy="1820" r="7.15"/><circle cx="867" cy="1825" r="7.15"/><circle cx="852" cy="1828" r="7.15"/><circle cx="860" cy="1832" r="7.15"/><circle cx="847" cy="1844" r="7.15"/><circle cx="864" cy="1846" r="7.15"/><circle cx="856" cy="1864.6" r="7.15"/><circle cx="903.4" cy="1665" r="7.15"/><circle cx="924.4" cy="1664.6" r="7.15"/><circle cx="915" cy="1672" r="7.15"/><circle cx="909" cy="1677" r="7.15"/><circle cx="923" cy="1681" r="7.15"/><circle cx="905" cy="1686" r="7.15"/><circle cx="915" cy="1688" r="7.15"/><circle cx="908" cy="1698" r="7.15"/><circle cx="917" cy="1700" r="7.15"/><circle cx="905" cy="1705" r="7.15"/><circle cx="923" cy="1713" r="7.15"/><circle cx="913.6" cy="1725" r="7.15"/><circle cx="963" cy="1657" r="7.15"/><circle cx="980" cy="1656" r="7.15"/><circle cx="971" cy="1660" r="7.15"/><circle cx="963" cy="1673" r="7.15"/><circle cx="980" cy="1677" r="7.15"/><circle cx="972" cy="1680" r="7.15"/><circle cx="970" cy="1688" r="7.15"/><circle cx="960" cy="1698" r="7.15"/><circle cx="983" cy="1700" r="7.15"/><circle cx="968" cy="1704" r="7.15"/><circle cx="977" cy="1713" r="7.15"/><circle cx="971.6" cy="1742.6" r="7.15"/><circle cx="971.6" cy="1787" r="7.15"/><circle cx="971.6" cy="1813" r="7.15"/><circle cx="1018.6" cy="1783" r="7.15"/><circle cx="1040" cy="1781" r="7.15"/><circle cx="1019" cy="1792" r="7.15"/><circle cx="1039" cy="1787" r="7.15"/><circle cx="1026" cy="1798" r="7.15"/><circle cx="1033" cy="1796" r="7.15"/><circle cx="1020" cy="1814" r="7.15"/><circle cx="1038" cy="1810" r="7.15"/><circle cx="1028" cy="1824" r="7.15"/><circle cx="1038" cy="1828" r="7.15"/><circle cx="1018" cy="1832" r="7.15"/><circle cx="1024" cy="1849" r="7.15"/><circle cx="1034" cy="1847" r="7.15"/><circle cx="1078.6" cy="1798" r="7.15"/><circle cx="1095.6" cy="1799.4" r="7.15"/><circle cx="1087" cy="1807" r="7.15"/><circle cx="1076" cy="1815.4" r="7.15"/><circle cx="1098" cy="1825" r="7.15"/><circle cx="1080" cy="1828" r="7.15"/><circle cx="1089" cy="1833" r="7.15"/><circle cx="1097" cy="1834" r="7.15"/><circle cx="1096" cy="1842" r="7.15"/><circle cx="1077.6" cy="1858" r="7.15"/><circle cx="1136.6" cy="1774" r="7.15"/><circle cx="1153" cy="1779.4" r="7.15"/><circle cx="1142" cy="1783" r="7.15"/><circle cx="1148" cy="1791" r="7.15"/><circle cx="1136" cy="1798" r="7.15"/><circle cx="1152" cy="1798" r="7.15"/><circle cx="1148" cy="1806" r="7.15"/><circle cx="1143" cy="1815" r="7.15"/><circle cx="1136" cy="1831.4" r="7.15"/><circle cx="1153.6" cy="1840" r="7.15"/><circle cx="1144.4" cy="1851.4" r="7.15"/></g>
<line x1="226" y1="1446" x2="226" y2="1950.5" stroke="#000" stroke-width="4"/>
<line x1="215.8" y1="1447.4" x2="226" y2="1447.4" stroke="#000" stroke-width="3.4"/>
<line x1="215.8" y1="1531.2" x2="226" y2="1531.2" stroke="#000" stroke-width="3.4"/>
<line x1="215.8" y1="1614.6" x2="226" y2="1614.6" stroke="#000" stroke-width="3.4"/>
<line x1="215.8" y1="1698" x2="226" y2="1698" stroke="#000" stroke-width="3.4"/>
<line x1="215.8" y1="1781.4" x2="226" y2="1781.4" stroke="#000" stroke-width="3.4"/>
<line x1="215.8" y1="1865" x2="226" y2="1865" stroke="#000" stroke-width="3.4"/>
<line x1="215.8" y1="1948.8" x2="226" y2="1948.8" stroke="#000" stroke-width="3.4"/>
<line x1="215.8" y1="1948.8" x2="1189.6" y2="1948.8" stroke="#000" stroke-width="3.4"/>
<text x="112.1" y="1459.9" font-size="35" font-weight="bold">1<tspan font-weight="normal" dy="3">×</tspan><tspan dy="-3">10</tspan></text>
<text id="t45" x="193.7" y="1449.3" font-size="22.5" font-weight="bold">-1</text>
<text x="112.1" y="1543.7" font-size="35" font-weight="bold">1<tspan font-weight="normal" dy="3">×</tspan><tspan dy="-3">10</tspan></text>
<text id="t46" x="193.7" y="1533.1" font-size="22.5" font-weight="bold">-2</text>
<text x="112.1" y="1627.1" font-size="35" font-weight="bold">1<tspan font-weight="normal" dy="3">×</tspan><tspan dy="-3">10</tspan></text>
<text id="t47" x="193.7" y="1616.5" font-size="22.5" font-weight="bold">-3</text>
<text x="112.1" y="1710.5" font-size="35" font-weight="bold">1<tspan font-weight="normal" dy="3">×</tspan><tspan dy="-3">10</tspan></text>
<text id="t48" x="193.7" y="1699.9" font-size="22.5" font-weight="bold">-4</text>
<text x="112.1" y="1793.9" font-size="35" font-weight="bold">1<tspan font-weight="normal" dy="3">×</tspan><tspan dy="-3">10</tspan></text>
<text id="t49" x="193.7" y="1783.3" font-size="22.5" font-weight="bold">-5</text>
<text x="112.1" y="1877.5" font-size="35" font-weight="bold">1<tspan font-weight="normal" dy="3">×</tspan><tspan dy="-3">10</tspan></text>
<text id="t50" x="193.7" y="1866.9" font-size="22.5" font-weight="bold">-6</text>
<text x="112.1" y="1961.3" font-size="35" font-weight="bold">1<tspan font-weight="normal" dy="3">×</tspan><tspan dy="-3">10</tspan></text>
<text id="t51" x="193.7" y="1950.7" font-size="22.5" font-weight="bold">-7</text>
<text transform="translate(41.8 1686.2) rotate(-90)" font-size="33.5" text-anchor="middle" textLength="411.5" lengthAdjust="spacingAndGlyphs">Frequency of recombination</text>
<text transform="translate(82.7 1680.6) rotate(-90)" font-size="33.5" text-anchor="middle" textLength="464" lengthAdjust="spacingAndGlyphs">(# of recombinants/cfu on YPD)</text>
</g>
<line x1="705.4" y1="745" x2="705.4" y2="2055" stroke="#000" stroke-width="4" stroke-linecap="round"/>
<g id="legend">
<rect x="1196" y="1057.3" width="47" height="17.4" fill="#008000" stroke="#000" stroke-width="3"/>
<rect x="1195" y="1107.7" width="46.5" height="17.4" fill="#FFFF00" stroke="#000" stroke-width="3"/>
<rect x="1195" y="1156.9" width="46.5" height="17.4" fill="#FF8000" stroke="#000" stroke-width="3"/>
<rect x="1195.5" y="1208.6" width="47" height="17.4" fill="#0000FF" stroke="#000" stroke-width="3"/>
<rect x="1195" y="1255.8" width="46.5" height="17.4" fill="#FF0000" stroke="#000" stroke-width="3"/>
<rect x="1194" y="1307.7" width="46.5" height="17.4" fill="#75079A" stroke="#000" stroke-width="3"/>
<rect x="1194" y="1355.3" width="46.5" height="17.4" fill="#5A55FA" stroke="#000" stroke-width="3"/>
<rect x="1196" y="1407.7" width="47" height="17.4" fill="#FF8080" stroke="#000" stroke-width="3"/>
<text id="lg1" x="1259.72" y="1074.6" font-size="29.2" textLength="122.07" lengthAdjust="spacingAndGlyphs">Wild type</text>
<text id="lg2" x="1259.52" y="1126.5" font-size="29.2" font-style="italic" textLength="94.07" lengthAdjust="spacingAndGlyphs">rad52<tspan stroke="#fff" stroke-width="0.7">Δ</tspan></text>
<text id="lg3" x="1259.52" y="1177.7" font-size="29.2" font-style="italic" textLength="94.07" lengthAdjust="spacingAndGlyphs">rad51<tspan stroke="#fff" stroke-width="0.7">Δ</tspan></text>
<text id="lg4" x="1258.92" y="1226.9" font-size="29.2" font-style="italic" fill="#1BA1F3" textLength="127.18" lengthAdjust="spacingAndGlyphs">rad51-ED</text>
<text id="lg5" x="1259.56" y="1274.1" font-size="29.2" fill="#FF0000" textLength="126.27" lengthAdjust="spacingAndGlyphs">rad51-KN</text>
<text id="lg6" x="1260.89" y="1327.5" font-size="29.2" font-style="italic" textLength="93.86" lengthAdjust="spacingAndGlyphs">rad54<tspan stroke="#fff" stroke-width="0.7">Δ</tspan></text>
<text id="lg7" x="1258.92" y="1376.9" font-size="29.2" font-style="italic" fill="#1BA1F3" textLength="127.18" lengthAdjust="spacingAndGlyphs">rad51-ED</text>
<text id="lg8" x="1393.66" y="1376.9" font-size="29.2" font-style="italic" textLength="94.14" lengthAdjust="spacingAndGlyphs">rad54<tspan stroke="#fff" stroke-width="0.7">Δ</tspan></text>
<text id="lg9" x="1259.53" y="1427.7" font-size="29.2" font-style="italic" fill="#FF0000" textLength="126.86" lengthAdjust="spacingAndGlyphs">rad51-KN</text>
<text id="lg10" x="1393.66" y="1427.7" font-size="29.2" font-style="italic" textLength="94.14" lengthAdjust="spacingAndGlyphs">rad54<tspan stroke="#fff" stroke-width="0.7">Δ</tspan></text>
</g>
<g id="xlabels">
<text id="t62" x="313.42" y="2044" font-size="59" font-weight="bold" textLength="101.82" lengthAdjust="spacingAndGlyphs">Leu</text>
<text id="t63" x="415.59" y="2018.5" font-size="40" font-weight="bold" textLength="24.19" lengthAdjust="spacingAndGlyphs">+</text>
<text id="t64" x="457" y="2044" font-size="59" font-weight="bold" textLength="92.48" lengthAdjust="spacingAndGlyphs">Ura</text>
<text id="t65" x="553.69" y="2019.5" font-size="36" font-weight="bold" textLength="14" lengthAdjust="spacingAndGlyphs">-</text>
<text id="t66" x="804.6" y="2044" font-size="59" font-weight="bold" textLength="102.4" lengthAdjust="spacingAndGlyphs">Leu</text>
<text id="t67" x="906.67" y="2018.5" font-size="40" font-weight="bold" textLength="25.1" lengthAdjust="spacingAndGlyphs">+</text>
<text id="t68" x="946.92" y="2044" font-size="59" font-weight="bold" textLength="93.86" lengthAdjust="spacingAndGlyphs">Ura</text>
<text id="t69" x="1043.5" y="2018.5" font-size="40" font-weight="bold" textLength="25.23" lengthAdjust="spacingAndGlyphs">+</text>
</g>
</svg>
</body></html>
